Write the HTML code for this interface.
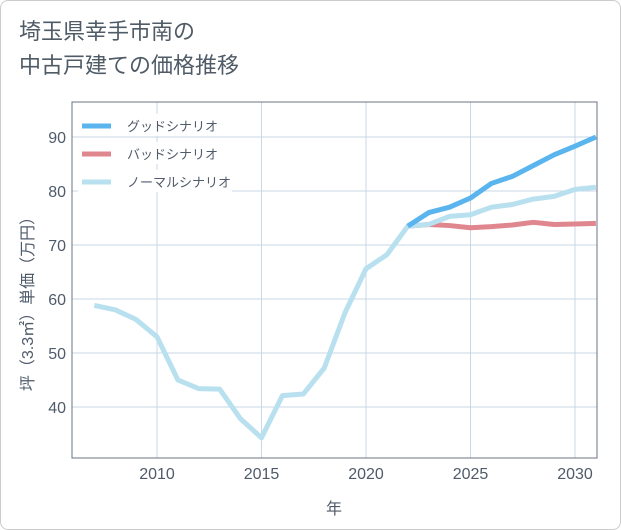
<!DOCTYPE html>
<html><head><meta charset="utf-8"><style>
body{margin:0;background:#fff;font-family:"Liberation Sans","Noto Sans CJK JP",sans-serif;}
#wrap{position:relative;width:619px;height:528px;border:1px solid #ccc;border-radius:8px;overflow:hidden;}
#title{position:absolute;left:18px;top:14px;font-size:22px;line-height:34px;color:#4f5b66;}
</style></head><body>
<div id="wrap">
<div id="title">埼玉県幸手市南の<br>中古戸建ての価格推移</div>
<svg id="chart" width="621" height="530" style="position:absolute;left:-1px;top:-1px"></svg>
</div>
<script>
const years=[2007,2008,2009,2010,2011,2012,2013,2014,2015,2016,2017,2018,2019,2020,2021,2022,2023,2024,2025,2026,2027,2028,2029,2030,2031];
const normal=[58.8,58,56.2,53,45,43.4,43.3,37.8,34.3,42.1,42.4,47.2,57.5,65.6,68.2,73.5,73.8,75.3,75.6,77,77.5,78.5,79,80.3,80.7];
const goodYears=[2022,2023,2024,2025,2026,2027,2028,2029,2030,2031];
const good=[73.5,76,77,78.7,81.4,82.7,84.7,86.7,88.3,90];
const bad=[73.5,73.8,73.6,73.2,73.4,73.7,74.2,73.8,73.9,74];
const xTicks=[2010,2015,2020,2025,2030];
const yTicks=[40,50,60,70,80,90];
const NS="http://www.w3.org/2000/svg";
const svg=document.getElementById('chart');
const X0=72,X1=597,Y0=102,Y1=458;
const TXT='#4f5b6a';
const x=v=>157+(v-2010)*20.9;
const y=v=>245-(v-70)*5.4;
function mk(t,a,p){const e=document.createElementNS(NS,t);for(const k in a)e.setAttribute(k,a[k]);(p||svg).appendChild(e);return e;}
xTicks.forEach(t=>{
const g=mk('line',{x1:x(t),x2:x(t),y1:Y0,y2:Y1,stroke:'#c8d7e5'});


const l=mk('text',{x:x(t),y:Y1+21,'text-anchor':'middle','font-size':16,fill:TXT});l.textContent=t;


});
yTicks.forEach(t=>{
const g=mk('line',{x1:X0,x2:X1,y1:y(t),y2:y(t),stroke:'#c8d7e5'});


const l=mk('text',{x:X0-6,y:y(t)+6,'text-anchor':'end','font-size':16,fill:TXT});l.textContent=t;


});
const ax=mk('rect',{x:X0,y:Y0,width:X1-X0,height:Y1-Y0,fill:'none',stroke:'#6a7580'});


const xt=mk('text',{x:334,y:514,'text-anchor':'middle','font-size':16,fill:TXT});xt.textContent='年';


const yt=mk('text',{x:0,y:0,'text-anchor':'middle','font-size':16,fill:TXT,transform:'translate(33,300) rotate(-90)'});yt.textContent='坪（3.3㎡）単価（万円）';


const cp=mk('clipPath',{id:'cp'});mk('rect',{x:X0,y:Y0,width:X1-X0,height:Y1-Y0},cp);
function line(xs,vs,col,name){
const p=mk('polyline',{points:xs.map((t,i)=>x(t)+','+y(vs[i])).join(' '),fill:'none',stroke:col,'stroke-width':5,'stroke-linejoin':'round','clip-path':'url(#cp)'});


}
line(goodYears,bad,'#e0868e','bad-scenario-line');
line(years,normal,'#b8e0ef','normal-scenario-line');
line(goodYears,good,'#5ab4ee','good-scenario-line');
const lg=[['グッドシナリオ','#5ab4ee',92],['バッドシナリオ','#e0868e',92],['ノーマルシナリオ','#b8e0ef',108]];
lg.forEach((d,i)=>{
const g=mk('g',{});


mk('rect',{x:78,y:114+i*28,width:46+d[2],height:22,fill:'#fff'},g);
mk('line',{x1:82,x2:111,y1:126+i*28,y2:126+i*28,stroke:d[1],'stroke-width':5},g);
const t=mk('text',{x:127,y:131+i*28,'font-size':13,fill:TXT},g);t.textContent=d[0];
});
</script>
</body></html>
